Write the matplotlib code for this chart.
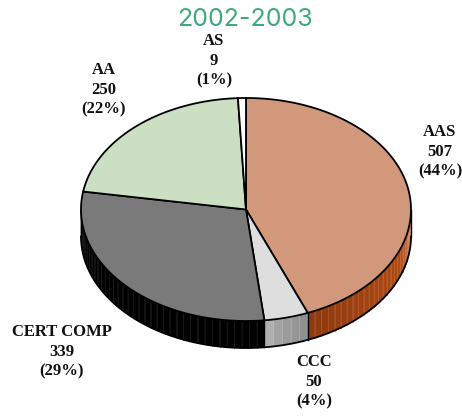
import numpy as np
import matplotlib
matplotlib.use("Agg")
import matplotlib.pyplot as plt
from matplotlib.patches import Polygon

title = "2002-2003"
categories = ["AAS", "CCC", "CERT COMP", "AA", "AS"]
values = [507, 50, 339, 250, 9]
percents = ["44%", "4%", "29%", "22%", "1%"]
top_colors = ["#d2987c", "#dedede", "#7a7a7a", "#cbdfc2", "#ffffff"]
side_dark = ["#8f3a10", "#909090", "#000000", "#9fb497", "#cccccc"]
side_mid = ["#b04c14", "#a0a0a0", "#000000", "#9fb497", "#cccccc"]
side_light = ["#cf8a68", "#b0b0b0", "#000000", "#9fb497", "#cccccc"]
label_pos = [(440, 152), (314, 382), (62, 352), (103.5, 90), (214, 61)]

CX, CY, RX, RY, DEPTH = 246, 209.5, 165, 111.5, 27

fig = plt.figure(figsize=(4.62, 4.18), dpi=100)
ax = fig.add_axes([0, 0, 1, 1])
ax.set_xlim(0, 462)
ax.set_ylim(418, 0)
ax.axis("off")


def pt(t, dy=0.0):
    return CX + RX * np.sin(t), CY - RY * np.cos(t) + dy


def hexrgb(h):
    return np.array(matplotlib.colors.to_rgb(h))


edges = np.concatenate([[0], np.cumsum(values)]) / sum(values) * 2 * np.pi

# Side wall, only the front half of the ellipse is visible
vis_start, vis_end = np.pi / 2, 3 * np.pi / 2
for i in range(len(values)):
    a = max(edges[i], vis_start)
    b = min(edges[i + 1], vis_end)
    if b <= a:
        continue
    n = max(int(np.degrees(b - a) / 2.6), 1)
    ticks = np.linspace(a, b, n + 1)
    d, m, l = hexrgb(side_dark[i]), hexrgb(side_mid[i]), hexrgb(side_light[i])
    for j in range(n):
        s = np.linspace(ticks[j], ticks[j + 1], 5)
        x, y = pt(s)
        f = 1 - j / max(n - 1, 1) if i == 0 else j / max(n - 1, 1)
        c = np.array([np.interp(f, [0, 0.7, 1], [d[k], m[k], l[k]]) for k in range(3)])
        poly = np.column_stack([np.r_[x, x[::-1]], np.r_[y, (y + DEPTH)[::-1]]])
        ax.add_patch(Polygon(poly, closed=True, fc=c, ec=c, lw=0.3, zorder=2))
        seam = np.clip(c + 0.10, 0, 1)
        ax.plot([x[-1], x[-1]], [y[-1], y[-1] + DEPTH], color=seam, lw=0.5, zorder=2.5)

# Outline of the wall
s = np.linspace(vis_start, vis_end, 300)
x, y = pt(s)
ax.plot(x, y + DEPTH, color="black", lw=1.3, zorder=3)
ax.plot([x[0], x[0]], [y[0], y[0] + DEPTH], color="black", lw=1.0, zorder=3)
ax.plot([x[-1], x[-1]], [y[-1], y[-1] + DEPTH], color="black", lw=1.0, zorder=3)
for e in edges:
    if vis_start < e < vis_end:
        ex, ey = pt(e)
        ax.plot([ex, ex], [ey, ey + DEPTH], color="black", lw=1.0, zorder=3)

# Top face
for i in range(len(values)):
    s = np.linspace(edges[i], edges[i + 1], 200)
    x, y = pt(s)
    poly = np.column_stack([np.r_[CX, x], np.r_[CY, y]])
    ax.add_patch(Polygon(poly, closed=True, fc=top_colors[i], ec="black",
                         lw=1.3, joinstyle="round", zorder=4))

ax.text(245, 19, title, color="#3fa97a", ha="center", va="center",
        fontsize=18, family="Inter", fontweight="normal")

for c, v, p, (lx, ly) in zip(categories, values, percents, label_pos):
    ax.text(lx, ly, f"{c}\n{v}\n({p})", ha="center", va="center", fontsize=12,
            family="Liberation Serif", fontweight="bold", color="#111111",
            linespacing=1.3, zorder=6)

fig.savefig("out.png", dpi=100)
